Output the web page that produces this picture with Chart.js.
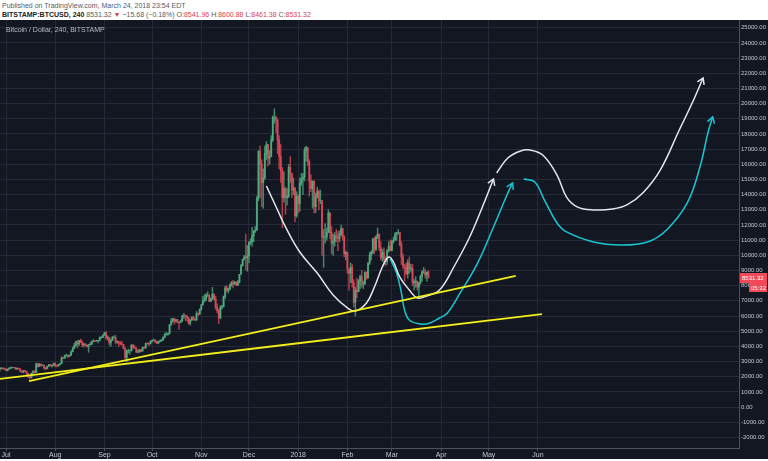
<!DOCTYPE html>
<html lang="en">
<head>
    <meta charset="UTF-8">
    <title>BTCUSD 240</title>
    <script src="https://cdn.jsdelivr.net/npm/chart.js"></script>
    <style>
        body {
            margin: 0;
            width: 768px;
            height: 461px;
            background: #ffffff;
            font-family: 'Liberation Sans', Arial, sans-serif;
            overflow: hidden;
            position: relative;
        }
        .hdr {
            position: absolute;
            left: 2px;
            font-size: 7px;
            line-height: 8px;
            color: #555a66;
            white-space: nowrap;
        }
        .hdr .r { color: #e0404f; }
        .hdr b { color: #222; }
        #wrap {
            position: absolute;
            left: 0;
            top: 20px;
            width: 768px;
            height: 439px;
        }
        .legend {
            position: absolute;
            left: 6px;
            top: 26px;
            font-size: 7px;
            color: #b7bac2;
            white-space: nowrap;
        }
    </style>
</head>
<body>
<div class="hdr" style="top:2px">Published on TradingView.com, March 24, 2018 23:54 EDT</div>
<div class="hdr" style="top:11px"><b>BITSTAMP:BTCUSD, 240</b> 8531.32 <span class="r">&#9660;</span> &minus;15.68 (&minus;0.18%) O:<span class="r">8541.96</span> H:<span class="r">8600.88</span> L:<span class="r">8461.38</span> C:<span class="r">8531.32</span></div>
<div id="wrap"><canvas id="chart" width="768" height="439"></canvas></div>
<div class="legend">Bitcoin / Dollar, 240, BITSTAMP</div>

<script>
    // days counted from Jul 1 2017; first candle is Jun 27 2017 (day -4), one candle per day
    const firstDay = -4;
    const firstOpen = 2500;

    const highs = [
        2560, 2600, 2590, 2570,
        2520, 2520, 2600, 2640, 2630, 2620, 2600, 2570, 2570, 2530, 2400, 2420, 2420, 2360, 2210, 2050, 2240, 2400, 2410, 2900, 2880, 2880, 2850, 2790, 2770, 2620, 2700, 2820, 2810, 2770, 2900,
        2920, 2760, 2810, 2880, 3300, 3290, 3420, 3490, 3430, 3440, 3700, 3950, 4200, 4330, 4400, 4400, 4480, 4360, 4200, 4180, 4100, 4130, 4250, 4350, 4450, 4380, 4400, 4390, 4630, 4650, 4760,
        4920, 4980, 4700, 4600, 4480, 4660, 4690, 4730, 4380, 4320, 4320, 4350, 4140, 3920, 3750, 3820, 3770, 4110, 4110, 4050, 3900, 3760, 3800, 3780, 3950, 3990, 4220, 4250, 4220, 4360,
        4410, 4480, 4440, 4350, 4350, 4420, 4460, 4620, 4880, 4920, 4870, 5440, 5850, 5840, 5850, 5790, 5780, 5600, 5730, 6060, 6180, 6080, 6040, 5900, 5760, 5970, 5990, 5860, 6300, 6200, 6470,
        6750, 7300, 7420, 7480, 7600, 7400, 7200, 7880, 7450, 7300, 6800, 6450, 6700, 6700, 7320, 7950, 8000, 7850, 8120, 8280, 8350, 8290, 8270, 8350, 8750, 9400, 9750, 10000, 11400, 10650,
        10900, 11100, 11850, 11650, 11900, 13900, 16900, 17200, 16300, 15700, 17200, 17500, 17300, 16900, 17900, 19200, 19666, 19200, 19000, 17900, 17300, 15800, 15500, 14500, 14400, 16000, 16500, 15400, 15100, 14500, 14200,
        14000, 15100, 15400, 15400, 17100, 17200, 17100, 16300, 15300, 14900, 14900, 14100, 14500, 14300, 14300, 13600, 11700, 12100, 11800, 13000, 12800, 11900, 11400, 11500, 11700, 11600, 11600, 12000, 11800, 11300, 10300,
        10200, 9100, 9500, 9400, 8400, 7900, 8500, 8400, 8700, 9000, 8300, 8900, 8900, 9500, 10200, 10300, 11100, 11200, 11300, 11800, 11400, 10900, 10400, 10500, 9900, 10400, 10900, 11000,
        11000, 11200, 11500, 11500, 11700, 11500, 10900, 10100, 9400, 9500, 9700, 9900, 9400, 9400, 8400, 8600, 8300, 8200, 8700, 9000, 9200, 9100, 8900, 9000
    ];
    const lows = [
        2330, 2480, 2520, 2470,
        2400, 2380, 2490, 2550, 2560, 2570, 2480, 2480, 2500, 2320, 2260, 2250, 2330, 2150, 1950, 1830, 1920, 2220, 2260, 2270, 2620, 2660, 2690, 2720, 2480, 2460, 2520, 2670, 2700, 2620, 2730,
        2660, 2650, 2690, 2770, 2850, 3180, 3200, 3350, 3250, 3330, 3400, 3630, 3850, 4000, 3900, 4050, 4250, 3980, 3970, 4050, 3950, 3610, 4090, 4110, 4300, 4300, 4320, 4220, 4350, 4510, 4580,
        4720, 4450, 4400, 4100, 4000, 4390, 4520, 4150, 4200, 4000, 4110, 4080, 3820, 3200, 2970, 3550, 3480, 3700, 3860, 3860, 3580, 3560, 3600, 3640, 3680, 3850, 3890, 4130, 4040, 4160,
        4280, 4370, 4220, 4180, 4170, 4300, 4330, 4410, 4560, 4730, 4740, 4820, 5380, 5600, 5450, 5580, 5550, 5120, 5550, 5620, 5850, 5700, 5660, 5450, 5400, 5690, 5720, 5680, 5700, 6030, 6100,
        6380, 6730, 6940, 6990, 7280, 6940, 6950, 7070, 7050, 6430, 6200, 5500, 5840, 6450, 6600, 7140, 7600, 7510, 7710, 7960, 7850, 8090, 8000, 8010, 8170, 8740, 9300, 9700, 9050, 8950,
        9500, 10700, 10600, 10900, 11500, 11650, 13600, 13800, 13200, 13100, 15000, 16300, 15900, 16000, 16500, 17500, 18700, 18100, 16700, 15700, 14800, 11800, 13500, 12700, 13300, 13800, 14800, 13800, 14000, 12200, 12500,
        12800, 12900, 14600, 14000, 14900, 16200, 15900, 13900, 14200, 13100, 12800, 12800, 13800, 13000, 13400, 10000, 9200, 10800, 11000, 11500, 11100, 10100, 10000, 10600, 10900, 10300, 10900, 11300, 11000, 9900, 9700,
        8800, 7700, 8200, 7900, 6600, 6000, 7200, 7600, 7800, 7900, 7800, 8100, 8400, 8500, 9400, 9700, 10100, 10100, 10300, 11100, 10300, 9700, 9600, 9400, 9300, 9400, 10200, 10300,
        10300, 10800, 11000, 11000, 11400, 10600, 9400, 9100, 8300, 8700, 8500, 8800, 8900, 8000, 7700, 7900, 7700, 7300, 8100, 8300, 8800, 8500, 8300, 8500
    ];
    const closes = [
        2560, 2570, 2540, 2480,
        2420, 2500, 2560, 2600, 2610, 2600, 2500, 2560, 2510, 2350, 2310, 2400, 2350, 2200, 1960, 1930, 2230, 2330, 2270, 2860, 2670, 2830, 2750, 2760, 2570, 2530, 2680, 2800, 2720, 2750, 2870,
        2710, 2700, 2800, 2860, 3250, 3220, 3380, 3420, 3340, 3420, 3650, 3860, 4070, 4320, 4160, 4380, 4280, 4110, 4150, 4060, 4000, 4100, 4140, 4320, 4360, 4350, 4380, 4380, 4580, 4580, 4740,
        4900, 4580, 4600, 4230, 4390, 4600, 4600, 4300, 4320, 4220, 4160, 4140, 3880, 3240, 3700, 3700, 3700, 4090, 3930, 3900, 3630, 3640, 3780, 3680, 3930, 3890, 4200, 4190, 4160, 4340,
        4400, 4400, 4300, 4220, 4320, 4370, 4430, 4610, 4770, 4770, 4830, 5430, 5640, 5820, 5700, 5750, 5600, 5570, 5700, 6000, 6000, 5990, 5900, 5520, 5740, 5890, 5770, 5750, 6150, 6130, 6450,
        6740, 7020, 7150, 7380, 7380, 6960, 7120, 7450, 7140, 6580, 6340, 5860, 6550, 6600, 7280, 7850, 7700, 7790, 8030, 8200, 8100, 8230, 8020, 8200, 8750, 9300, 9730, 9900, 9830, 9950,
        10850, 10900, 11300, 11600, 11650, 13750, 16850, 16000, 14800, 15100, 16700, 17300, 16400, 16500, 17600, 19100, 19100, 18900, 17600, 16500, 15600, 13800, 14400, 13800, 13900, 15800, 15400, 14300, 14400, 12600, 13900,
        13400, 14750, 15000, 15150, 16900, 17100, 16200, 14900, 14400, 14900, 13200, 13800, 14200, 13600, 13600, 11200, 11200, 11200, 11500, 12800, 11500, 10800, 10900, 11300, 11200, 11100, 11400, 11750, 11200, 10100, 10200,
        9100, 8830, 9200, 8200, 6900, 7700, 7600, 8300, 8600, 8100, 8100, 8900, 8500, 9500, 10000, 10200, 11100, 10400, 11200, 11400, 10500, 9850, 10200, 9700, 9600, 10300, 10600, 10300,
        10900, 11000, 11400, 11500, 11500, 10700, 9900, 9300, 9200, 8800, 9500, 9100, 9150, 8200, 8250, 8300, 7900, 8200, 8600, 8900, 8900, 8700, 8900, 8531.32
    ];

    // month axis: day offset from Jul 1 2017 and label
    const monthDays = [0, 31, 62, 92, 123, 153, 184, 215, 243, 274, 304, 335];
    const monthLabels = ['Jul', 'Aug', 'Sep', 'Oct', 'Nov', 'Dec', '2018', 'Feb', 'Mar', 'Apr', 'May', 'Jun'];
    const priceTicks = [-2000, -1000, 0, 1000, 2000, 3000, 4000, 5000, 6000, 7000, 8000, 9000, 10000, 11000, 12000,
        13000, 14000, 15000, 16000, 17000, 18000, 19000, 20000, 21000, 22000, 23000, 24000, 25000];

    // hand drawn lines, [day, price]
    const trendLow = [[-3.8, 1850], [337.5, 6130]];
    const trendHigh = [[14.5, 1710], [321, 8640]];
    const whiteCup = [[164, 14570], [171, 12990], [176, 11870], [185, 10220], [196, 8830], [206, 7380], [215, 6530], [220, 6330],
        [227, 6860], [232, 7910], [237, 9230], [241, 9890], [244, 9560], [248, 8570], [254, 7710], [259, 7190], [265, 7320],
        [273, 7710], [282, 9230], [292, 11210], [300, 13180], [307, 15030]];
    const whiteTop = [[309, 15430], [316, 16410], [324, 16880], [330, 16940], [338, 16610], [347, 15290], [353, 13840], [360, 13180],
        [370, 12990], [382, 13050], [391, 13320], [401, 14110], [412, 15620], [424, 18260], [433, 20240], [439, 21690]];
    const cyanDip = [[242, 9760], [246, 8830], [249, 7520], [251, 6390], [254, 5740], [261, 5470], [267, 5540], [273, 5870],
        [278, 6200], [286, 7520], [297, 9490], [307, 11870], [316, 14110], [319, 14770]];
    const cyanTop = [[326, 15030], [333, 14830], [339, 13650], [347, 12130], [353, 11540], [370, 10880], [387, 10680], [404, 10880],
        [416, 11670], [429, 13450], [437, 15820], [442, 18060], [445, 19120]];

    const lastPrice = closes[closes.length - 1];
    const countdown = '05:32';

    const UP = 'rgba(83, 185, 135, 0.72)';
    const DOWN = 'rgba(235, 77, 92, 0.72)';

    const wicks = [], bodies = [], colors = [];
    closes.forEach((c, i) => {
        const o = i === 0 ? firstOpen : closes[i - 1];
        const d = firstDay + i;
        wicks.push({x: d, y: [lows[i], highs[i]]});
        bodies.push({x: d, y: [o, c]});
        colors.push(c >= o ? UP : DOWN);
    });

    const pts = arr => arr.map(p => ({x: p[0], y: p[1]}));

    function drawing(data, color, width, arrow) {
        return {
            type: 'line',
            data: pts(data),
            borderColor: color,
            borderWidth: width,
            pointRadius: 0,
            tension: 0.4,
            fill: false,
            arrow: arrow,
            order: 0
        };
    }

    const bgPlugin = {
        id: 'bg',
        beforeDraw(chart) {
            const ctx = chart.ctx;
            ctx.save();
            ctx.fillStyle = '#131722';
            ctx.fillRect(0, 0, chart.width, chart.height);
            ctx.restore();
        }
    };

    const arrowPlugin = {
        id: 'arrows',
        afterDatasetsDraw(chart) {
            const ctx = chart.ctx;
            chart.data.datasets.forEach((ds, i) => {
                if (!ds.arrow) return;
                const els = chart.getDatasetMeta(i).data;
                const p1 = els[els.length - 1], p0 = els[els.length - 2];
                const a = Math.atan2(p1.y - p0.y, p1.x - p0.x);
                const len = 7;
                ctx.save();
                ctx.strokeStyle = ds.borderColor;
                ctx.lineWidth = ds.borderWidth;
                ctx.beginPath();
                ctx.moveTo(p1.x - len * Math.cos(a - 0.55), p1.y - len * Math.sin(a - 0.55));
                ctx.lineTo(p1.x, p1.y);
                ctx.lineTo(p1.x - len * Math.cos(a + 0.55), p1.y - len * Math.sin(a + 0.55));
                ctx.stroke();
                ctx.restore();
            });
        }
    };

    const tagPlugin = {
        id: 'priceTag',
        afterDraw(chart) {
            const ctx = chart.ctx;
            const y = chart.scales.y;
            const left = chart.chartArea.right + 1;
            const py = Math.round(y.getPixelForValue(lastPrice));
            ctx.save();
            ctx.fillStyle = '#f04a5a';
            ctx.fillRect(left, py - 5, 27, 10);
            ctx.fillRect(left + 9, py + 5, 18, 9);
            ctx.fillStyle = '#ffffff';
            ctx.font = '6px "Liberation Sans", Arial, sans-serif';
            ctx.textBaseline = 'middle';
            ctx.fillText(lastPrice.toFixed(2), left + 2, py + 0.5);
            ctx.fillText(countdown, left + 11, py + 10);
            ctx.restore();
        }
    };

    Chart.defaults.font.family = "'Liberation Sans', Arial, sans-serif";
    Chart.defaults.font.size = 7;
    Chart.defaults.color = '#c3c6ce';

    new Chart(document.getElementById('chart'), {
        type: 'bar',
        data: {
            datasets: [
                drawing(trendLow, '#f2ee1a', 1.8, false),
                drawing(trendHigh, '#f2ee1a', 1.8, false),
                drawing(whiteCup, '#e4e6ec', 1.5, true),
                drawing(whiteTop, '#e4e6ec', 1.5, true),
                drawing(cyanDip, '#18c6d2', 1.5, true),
                drawing(cyanTop, '#18c6d2', 1.5, true),
                {
                    data: bodies,
                    backgroundColor: colors,
                    barThickness: 1.3,
                    grouped: false,
                    order: 1
                },
                {
                    data: wicks,
                    backgroundColor: colors,
                    barThickness: 0.8,
                    grouped: false,
                    order: 2
                }
            ]
        },
        options: {
            responsive: false,
            animation: false,
            layout: {padding: 0},
            plugins: {
                legend: {display: false},
                tooltip: {enabled: false}
            },
            scales: {
                x: {
                    type: 'linear',
                    min: -3.78,
                    max: 461.6,
                    offset: false,
                    afterBuildTicks: s => { s.ticks = monthDays.map(v => ({value: v})); },
                    afterFit: s => { s.height = 11; s.paddingLeft = 0; s.paddingRight = 0; },
                    ticks: {
                        autoSkip: false,
                        maxRotation: 0,
                        padding: 0,
                        color: '#c3c6ce',
                        callback: v => monthLabels[monthDays.indexOf(v)]
                    },
                    grid: {
                        color: '#262a36',
                        offset: false,
                        tickLength: 3,
                        tickColor: '#4c525e'
                    },
                    border: {color: '#4c525e'}
                },
                y: {
                    position: 'right',
                    min: -2700,
                    max: 25510,
                    afterBuildTicks: s => { s.ticks = priceTicks.map(v => ({value: v})); },
                    afterFit: s => { s.width = 29; s.paddingTop = 0; s.paddingBottom = 0; },
                    ticks: {
                        padding: 2,
                        color: '#c3c6ce',
                        font: {size: 6},
                        callback: v => v.toFixed(2)
                    },
                    grid: {
                        color: '#262a36',
                        drawTicks: false
                    },
                    border: {color: '#4c525e'}
                }
            }
        },
        plugins: [bgPlugin, arrowPlugin, tagPlugin]
    });
</script>
</body>
</html>
